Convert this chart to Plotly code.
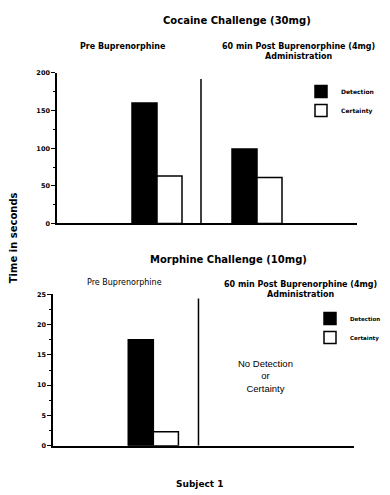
import plotly.graph_objects as go

# ---- data ----
groups = ["Pre Buprenorphine", "60 min Post Buprenorphine (4mg) Administration"]
series_names = ["Detection", "Certainty"]
cocaine_detection = [160, 99]
cocaine_certainty = [63, 61]
morphine_detection = [17.5, None]
morphine_certainty = [2.3, None]

cocaine_ticks = [0, 50, 100, 150, 200]
morphine_ticks = [0, 5, 10, 15, 20, 25]

# the page body has an 8px default margin, so the figure is drawn 8px in
OFF = 8
W, H = 390 - OFF, 495 - OFF
FONT = "DejaVu Sans, Liberation Sans, Arial, sans-serif"
FONT2 = "Liberation Sans, Arial, sans-serif"


def px(x):
    return (x - OFF) / W


def py(y):
    return 1 - (y - OFF) / H


fig = go.Figure()

bar_line = dict(color="black", width=1.5)
fig.add_trace(go.Bar(x=groups, y=cocaine_detection, name=series_names[0],
                     marker=dict(color="black", line=bar_line),
                     xaxis="x", yaxis="y", legend="legend"))
fig.add_trace(go.Bar(x=groups, y=cocaine_certainty, name=series_names[1],
                     marker=dict(color="white", line=bar_line),
                     xaxis="x", yaxis="y", legend="legend"))
fig.add_trace(go.Bar(x=groups, y=morphine_detection, name=series_names[0],
                     marker=dict(color="black", line=bar_line),
                     xaxis="x2", yaxis="y2", legend="legend2"))
fig.add_trace(go.Bar(x=groups, y=morphine_certainty, name=series_names[1],
                     marker=dict(color="white", line=bar_line),
                     xaxis="x2", yaxis="y2", legend="legend2"))

tickfont = dict(family=FONT, size=6.5, color="black", weight="bold")

common_x = dict(type="category", range=[-1, 2], showticklabels=False,
                ticks="", showline=True, linecolor="black", linewidth=1.5,
                showgrid=False, zeroline=False)
common_y = dict(ticks="outside", ticklen=4, tickwidth=1, tickcolor="black",
                showline=True, linecolor="black", linewidth=1.5,
                showgrid=False, zeroline=False, tickfont=tickfont)

fig.update_layout(
    width=W, height=H,
    margin=dict(l=0, r=0, t=0, b=0),
    paper_bgcolor="white", plot_bgcolor="white",
    barmode="group", bargap=0.5, bargroupgap=0,
    font=dict(family=FONT, color="black"),
    xaxis=dict(domain=[px(57), px(357)], anchor="y", **common_x),
    yaxis=dict(domain=[py(223), py(70)], anchor="x", range=[0, 200],
               tickvals=cocaine_ticks,
               minor=dict(dtick=25, ticks="outside", ticklen=2, tickcolor="black"),
               **common_y),
    xaxis2=dict(domain=[px(53), px(354)], anchor="y2", **common_x),
    yaxis2=dict(domain=[py(449), py(295)], anchor="x2", range=[0, 25],
                tickvals=morphine_ticks,
                minor=dict(dtick=2.5, ticks="outside", ticklen=2, tickcolor="black"),
                **common_y),
    legend=dict(x=px(301), y=py(74), xanchor="left", yanchor="top",
                font=dict(family=FONT, size=6, weight="bold"),
                bgcolor="rgba(0,0,0,0)", borderwidth=0),
    legend2=dict(x=px(310), y=py(305), xanchor="left", yanchor="top",
                 font=dict(family=FONT, size=5.5, weight="bold"),
                 bgcolor="rgba(0,0,0,0)", borderwidth=0),
)

# divider lines between the two conditions
fig.add_shape(type="line", xref="x", yref="y", x0=0.44, x1=0.44, y0=0, y1=192,
              line=dict(color="black", width=1.5))
fig.add_shape(type="line", xref="x2", yref="y2", x0=0.45, x1=0.45, y0=0, y1=24.3,
              line=dict(color="black", width=1.5))


def ann(text, x, y, size, weight="bold", angle=0, family=FONT):
    fig.add_annotation(text=text, x=px(x), y=py(y), xref="paper", yref="paper",
                       showarrow=False, xanchor="center", yanchor="middle",
                       textangle=angle,
                       font=dict(family=family, size=size, color="black", weight=weight))


ann("Cocaine Challenge (30mg)", 237, 17, 10)
ann(groups[0], 123, 43, 8)
ann("60 min Post Buprenorphine (4mg)<br>Administration", 298, 48, 8)

ann("Morphine Challenge (10mg)", 228, 260, 10)
ann(groups[0], 124, 283, 8, weight="normal")
ann("60 min Post Buprenorphine (4mg)<br>Administration", 300, 290, 8)

ann("No Detection<br>or<br>Certainty", 265, 378, 9.5, weight="normal", family=FONT2)

ann("Time in seconds", 13, 238, 10, angle=-90)
ann("Subject 1", 200, 488, 9)

fig.write_html("out.html")
